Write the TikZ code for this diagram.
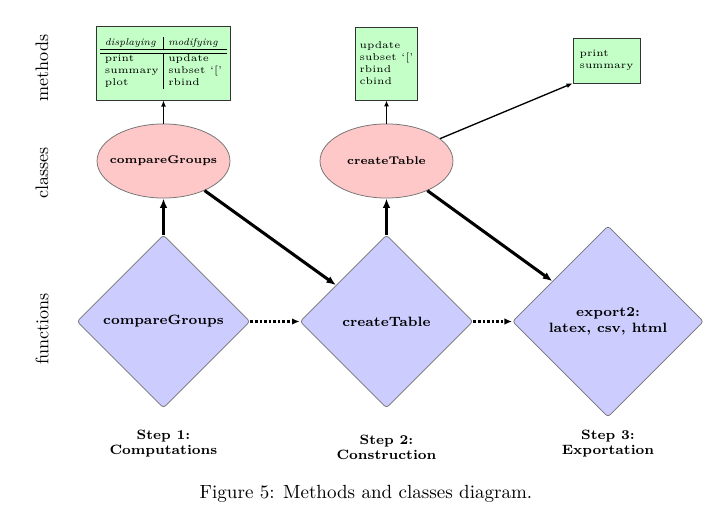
\documentclass[tikz,border=0pt]{standalone}
\usepackage{fontspec}
\usetikzlibrary{shapes.geometric,arrows.meta}
\definecolor{methfill}{RGB}{196,255,200}
\definecolor{classfill}{RGB}{255,200,200}
\definecolor{funcfill}{RGB}{204,204,255}
\begin{document}
\begin{tikzpicture}[x=0.525pt,y=-0.525pt,
  method/.style={rectangle,draw=black!80,fill=methfill,inner sep=2pt,align=left,font=\fontsize{5.2}{6.3}\selectfont},
  class/.style={ellipse,draw=black!55,fill=classfill,inner xsep=-6pt,inner ysep=0pt,minimum width=69.8pt,minimum height=38.9pt,font=\fontsize{5.9}{7}\selectfont\bfseries},
  func/.style={diamond,draw=black!55,fill=funcfill,rounded corners=1.5pt,inner sep=0pt,align=center,font=\fontsize{7.1}{8.6}\selectfont\bfseries},
  level/.style={rotate=90,font=\fontsize{9.5}{11}\selectfont},
  steplabel/.style={align=center,font=\fontsize{7.1}{7.9}\selectfont\bfseries},
  thinarrow/.style={-{Latex[length=3.2pt,width=2.6pt]},line width=0.7pt},
  thickarrow/.style={-{Latex[length=5pt,width=4pt]},line width=1.6pt},
  dotarrow/.style={-{Latex[length=4pt,width=3.4pt]},line width=1.4pt,densely dotted}]
\useasboundingbox (0,0) rectangle (721,516);
\node[level] (lmeth) at (42,68) {methods};
\node[level] (lclass) at (42,173) {classes};
\node[level] (lfunc) at (42,329) {functions};
\node[method,minimum width=68.8pt,minimum height=38.9pt] (mCG) at (163.5,63)
  {\setlength{\tabcolsep}{2.5pt}\begin{tabular}{l|l}
   \emph{displaying} & \emph{modifying}\\ \hline\hline
   print & update\\ summary & subset `['\\ plot & rbind
   \end{tabular}};
\node[method,minimum width=32pt,minimum height=38.3pt] (mCT) at (386.5,63.5) {update\\ subset `['\\ rbind\\ cbind};
\node[method,minimum width=35.2pt,minimum height=23.6pt] (mEX) at (606.5,60.5) {print\\ summary};
\node[class] (cCG) at (163.5,161) {compareGroups};
\node[class] (cCT) at (386.5,161) {createTable};
\node[func,minimum size=90.8pt] (fCG) at (163.5,321.5) {compareGroups};
\node[func,minimum size=90.8pt] (fCT) at (386.5,321.5) {createTable};
\node[func,minimum size=100.3pt] (fEX) at (608,321.5) {export2:\\ latex, csv, html};
\node[steplabel] (s1) at (163.5,444) {Step 1:\\ Computations};
\node[steplabel] (s2) at (386.5,447) {Step 2:\\ Construction};
\node[steplabel] (s3) at (608,444) {Step 3:\\ Exportation};
\node (caption) at (366,494) {Figure 5: Methods and classes diagram.};
\draw[thinarrow] (cCG) -- (mCG);
\draw[thinarrow] (cCT) -- (mCT);
\draw[thinarrow] (cCT) -- (mEX.south west);
\draw[thickarrow] (fCG) -- (cCG);
\draw[thickarrow] (fCT) -- (cCT);
\draw[thickarrow] (cCG) -- (fCT);
\draw[thickarrow] (cCT) -- (fEX);
\draw[dotarrow] (fCG) -- (fCT);
\draw[dotarrow] (fCT) -- (fEX);
\end{tikzpicture}
\end{document}
